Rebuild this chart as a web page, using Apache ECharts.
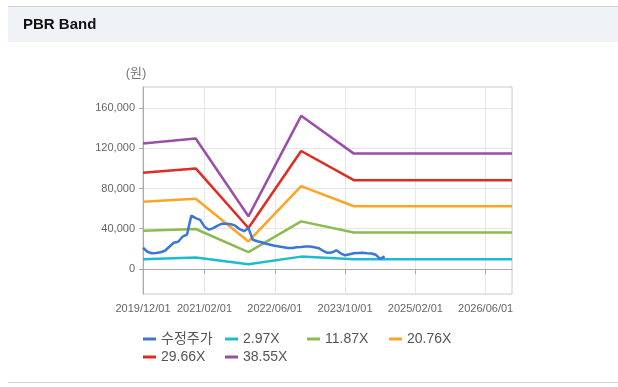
<!DOCTYPE html>
<html>
<head>
<meta charset="utf-8">
<script src="https://cdn.jsdelivr.net/npm/echarts@6/dist/echarts.min.js"></script>
<style>
html,body{margin:0;padding:0;background:#fff;}
#c{width:618px;height:387px;}
</style>
</head>
<body>
<div id="c"></div>
<script>
// x categories (monthly)
const startYear = 2019, startMonth = 12, monthCount = 85;
const months = [];
for (let i = 0; i < monthCount; i++) {
  const t = startYear * 12 + (startMonth - 1) + i;
  const y = Math.floor(t / 12), m = t % 12 + 1;
  months.push(y + '/' + (m < 10 ? '0' + m : m) + '/01');
}
const tickLabels = ['2019/12/01', '2021/02/01', '2022/06/01', '2023/10/01', '2025/02/01', '2026/06/01'];
const yTicks = [0, 40000, 80000, 120000, 160000];

// 수정주가 (monthly from 2019/12)
const price = [21000, 17000, 15500, 15800, 16500, 18000, 22000, 26000, 27000, 32000,
  34000, 53000, 50500, 48800, 42000, 39000, 40500, 43000, 45000, 45000,
  44500, 43000, 39500, 37500, 40600, 29000, 27500, 26500, 25000, 24000,
  23000, 22200, 21500, 20800, 20800, 21500, 21800, 22200, 22200, 21500,
  20600, 18000, 16000, 16300, 18500, 15500, 13500, 14500, 15600, 15800,
  16000, 15600, 15300, 14000, 10000, 12500];

// band key points
const bandMonths = ['2019/12/01', '2020/12/01', '2021/12/01', '2022/12/01', '2023/12/01', '2026/12/01'];
const band297 = [9700, 11300, 4700, 12200, 9600, 9600];
const band1187 = [38000, 39700, 16700, 47300, 36300, 36300];
const band2076 = [66700, 69700, 27300, 82300, 62300, 62300];
const band2966 = [95700, 100000, 40700, 117300, 88300, 88300];
const band3855 = [124700, 129700, 52300, 152300, 114700, 114700];

const seriesNames = ['수정주가', '2.97X', '11.87X', '20.76X', '29.66X', '38.55X'];
const colors = ['#3a76d6', '#1bbccf', '#8bbb4c', '#ffa426', '#e12b22', '#9a4ea8'];

const FONT = "'Liberation Sans', 'Noto Sans CJK KR', sans-serif";
const tickIdx = tickLabels.map(l => months.indexOf(l));
const showIdx = (i) => tickIdx.indexOf(i) >= 0;

function band(vals) { return bandMonths.map((m, i) => [m, vals[i]]); }

const bands = [band297, band1187, band2076, band2966, band3855];
const series = [{
  name: seriesNames[0], type: 'line', data: price, showSymbol: false,
  lineStyle: {width: 2.5, color: colors[0]}, itemStyle: {color: colors[0]}, z: 10
}];
bands.forEach((b, i) => {
  series.push({
    name: seriesNames[i + 1], type: 'line', data: band(b), showSymbol: false,
    lineStyle: {width: 2.5, color: colors[i + 1]}, itemStyle: {color: colors[i + 1]}
  });
});

function legendAt(top, names) {
  return {
    left: 143, top: top, orient: 'horizontal', padding: 0,
    itemWidth: 13, itemHeight: 3, itemGap: 8, icon: 'rect',
    data: names,
    textStyle: {fontSize: 14, color: '#555', fontFamily: FONT, width: 56, overflow: 'none', lineHeight: 14}
  };
}

const chart = echarts.init(document.getElementById('c'));
chart.setOption({
  animation: false,
  backgroundColor: '#fff',
  graphic: [
    {type: 'rect', shape: {x: 8, y: 6, width: 610, height: 36}, style: {fill: '#eff2f6'}},
    {type: 'line', shape: {x1: 8, y1: 6.5, x2: 618, y2: 6.5}, style: {stroke: '#d3d3d3', lineWidth: 1}},
    {type: 'line', shape: {x1: 8, y1: 382.5, x2: 618, y2: 382.5}, style: {stroke: '#d3d3d3', lineWidth: 1}},
    {type: 'text', x: 23, y: 25, style: {text: 'PBR Band', font: "bold 15px 'Liberation Sans', sans-serif", fill: '#111', textVerticalAlign: 'middle'}}
  ],
  grid: {left: 143, right: 106, top: 87, bottom: 93, show: true, borderColor: '#c8c8c8', borderWidth: 1, backgroundColor: '#fff'},
  legend: [legendAt(332, seriesNames.slice(0, 4)), legendAt(350, seriesNames.slice(4))],
  xAxis: {
    type: 'category', data: months, boundaryGap: false,
    axisLine: {lineStyle: {color: '#aaa'}},
    axisTick: {show: true, interval: (i) => showIdx(i), length: 5, lineStyle: {color: '#aaa'}},
    axisLabel: {interval: (i) => showIdx(i), fontSize: 11, color: '#666', fontFamily: FONT, margin: 9},
    splitLine: {show: true, interval: (i) => showIdx(i), lineStyle: {color: '#e6e6e6'}}
  },
  yAxis: {
    type: 'value', min: -25000, max: 181000,
    name: '(원)', nameLocation: 'end', nameGap: 7,
    nameTextStyle: {fontSize: 13, color: '#777', fontFamily: FONT, padding: [0, 14, 0, 0]},
    axisLine: {show: true, lineStyle: {color: '#aaa'}},
    axisTick: {show: true, length: 4, customValues: yTicks, lineStyle: {color: '#aaa'}},
    axisLabel: {customValues: yTicks, fontSize: 11, color: '#666', fontFamily: FONT, margin: 8,
      formatter: (v) => v.toLocaleString('en-US')},
    splitLine: {show: true, lineStyle: {color: '#e6e6e6'}}
  },
  series: series
});
</script>
</body>
</html>
